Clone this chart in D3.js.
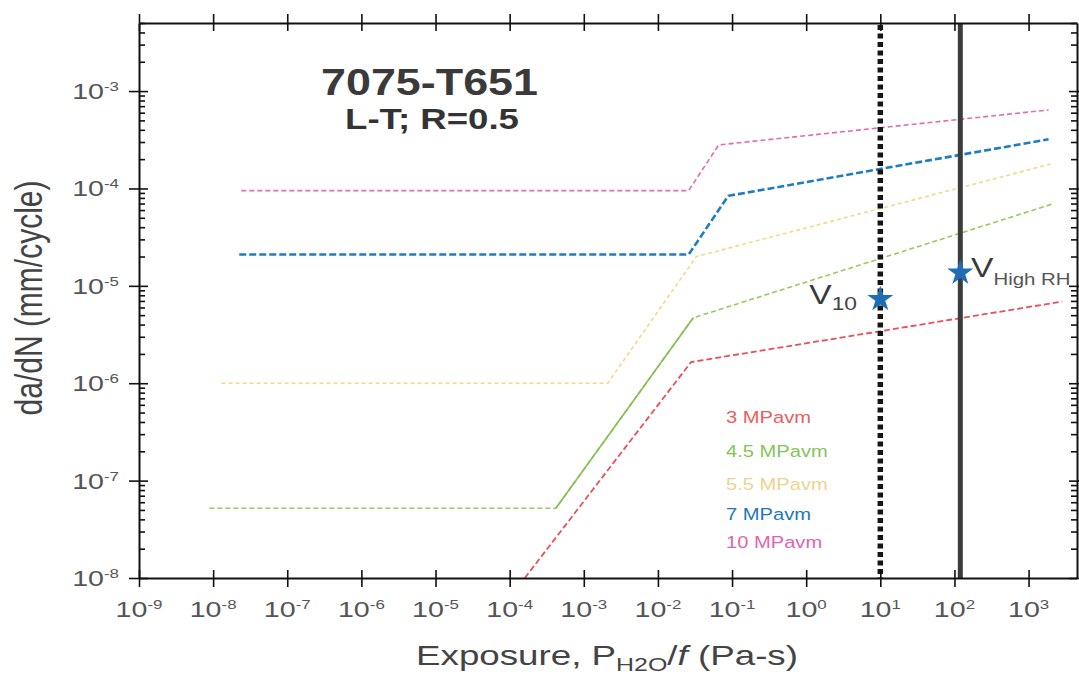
<!DOCTYPE html>
<html>
<head>
<meta charset="utf-8">
<script src="https://cdn.jsdelivr.net/npm/d3@7"></script>
<style>
  body { margin: 0; background: #fff; }
  svg { display: block; background: #fff; }
  text { font-family: "Liberation Sans", Arial, sans-serif; }
  .axis path, .axis line { stroke: #111; }
</style>
</head>
<body>
<svg id="chart" width="1079" height="675"></svg>
<script>
// values: [exposure Pa-s, da/dN mm/cycle]
var seriesNames = ['3 MPavm', '4.5 MPavm', '5.5 MPavm', '7 MPavm', '10 MPavm'];
var series3  = [[1.6e-4, 1e-8], [0.028, 1.65e-6], [2850, 6.9e-6]];
var series45 = [[8.9e-9, 5.2e-8], [4.2e-4, 5.2e-8], [0.030, 4.7e-6], [2200, 7.0e-5]];
var series55 = [[1.3e-8, 1e-6], [2.1e-3, 1e-6], [0.033, 2.0e-5], [2100, 1.8e-4]];
var series7  = [[2.25e-8, 2.1e-5], [0.026, 2.1e-5], [0.089, 8.4e-5], [1860, 3.2e-4]];
var series10 = [[2.4e-8, 9.5e-5], [0.026, 9.5e-5], [0.066, 2.8e-4], [1860, 6.4e-4]];
var solidRise45 = [1, 2];   // the 4.5 MPavm transition is drawn solid

var refLines = [10, 120];   // P/f for V10 (dotted) and V High RH (solid)
var starX = [10, 120];
var starY = [7.3e-6, 1.36e-5];
var starSub = ['10', 'High RH'];

var xTickExp = [-9, -8, -7, -6, -5, -4, -3, -2, -1, 0, 1, 2, 3];
var yTickExp = [-8, -7, -6, -5, -4, -3];

var colors = ['#e8505a', '#97c95c', '#f3d88c', '#1f7cc2', '#e56aae'];
var legendColors = ['#e85e60', '#86c45a', '#eed391', '#1e76bc', '#e064ae'];
var widths = [1.8, 1.6, 1.6, 2.6, 1.6];
var dashes = ['6,3', '5,3', '4,3', '7,3', '5,3'];

var svg = d3.select('#chart');
var pl = 139, pr = 1077, pt = 23, pb = 578;

var x = d3.scaleLog().domain([1e-9, 4500]).range([pl, pr]);
var y = d3.scaleLog().domain([1e-8, 5e-3]).range([pb, pt]);

var xMajor = xTickExp.map(function(e) { return Math.pow(10, e); });
var yMajor = yTickExp.map(function(e) { return Math.pow(10, e); });
function isMajor(v) { return Math.abs(Math.log10(v) - Math.round(Math.log10(v))) < 1e-6; }
var xMinor = x.ticks().filter(function(v) { return !isMajor(v); });
var yMinor = y.ticks().filter(function(v) { return !isMajor(v); });

function fit(g, width) {
  var w = g.select('text').node().getBBox().width;
  g.attr('transform', g.attr('transform') + ' scale(' + (width / w) + ',1)');
}

// ---- series
var line = d3.line().x(function(d) { return x(d[0]); }).y(function(d) { return y(d[1]); });
var all = [series3, series45, series55, series7, series10];

svg.append('g').selectAll('path')
    .data(all)
  .enter().append('path')
    .attr('d', line)
    .attr('fill', 'none')
    .attr('stroke', function(d, i) { return colors[i]; })
    .attr('stroke-width', function(d, i) { return widths[i]; })
    .attr('stroke-dasharray', function(d, i) { return dashes[i]; });

svg.append('path')
    .attr('d', line(solidRise45.map(function(i) { return series45[i]; })))
    .attr('fill', 'none')
    .attr('stroke', '#86bf55')
    .attr('stroke-width', 1.6);

// ---- reference lines
svg.append('line')
    .attr('x1', x(refLines[0])).attr('x2', x(refLines[0]))
    .attr('y1', pt + 2).attr('y2', pb)
    .attr('stroke', '#151515').attr('stroke-width', 5.5)
    .attr('stroke-dasharray', '5,3.5');
svg.append('line')
    .attr('x1', x(refLines[1])).attr('x2', x(refLines[1]))
    .attr('y1', pt).attr('y2', pb)
    .attr('stroke', '#3c3c3c').attr('stroke-width', 5);

// ---- axes
function axis(fn, scale, tr, values, size) {
  var g = svg.append('g').attr('class', 'axis').attr('transform', tr)
      .call(fn(scale).tickValues(values).tickSize(size).tickSizeOuter(0).tickFormat(''));
  g.selectAll('line').attr('stroke-width', 1.6);
  return g;
}
axis(d3.axisBottom, x, 'translate(0,' + pb + ')', xMajor, 9).select('.domain').attr('stroke-width', 2);
axis(d3.axisBottom, x, 'translate(0,' + pb + ')', xMajor, -8).select('.domain').remove();
axis(d3.axisBottom, x, 'translate(0,' + pb + ')', xMinor, -5).select('.domain').remove();
axis(d3.axisTop, x, 'translate(0,' + pt + ')', xMajor, 9).select('.domain').attr('stroke-width', 2);
axis(d3.axisTop, x, 'translate(0,' + pt + ')', xMajor, -8).select('.domain').remove();
axis(d3.axisTop, x, 'translate(0,' + pt + ')', xMinor, -5).select('.domain').remove();
axis(d3.axisLeft, y, 'translate(' + pl + ',0)', yMajor, 10).select('.domain').attr('stroke-width', 2);
axis(d3.axisLeft, y, 'translate(' + pl + ',0)', yMajor, -9).select('.domain').remove();
axis(d3.axisLeft, y, 'translate(' + pl + ',0)', yMinor, -6).select('.domain').remove();
axis(d3.axisRight, y, 'translate(' + pr + ',0)', yMajor, 9).select('.domain').attr('stroke-width', 2);
axis(d3.axisRight, y, 'translate(' + pr + ',0)', yMajor, -8).select('.domain').remove();
axis(d3.axisRight, y, 'translate(' + pr + ',0)', yMinor, -6).select('.domain').remove();

// tick labels, 10 with superscript exponent
function power(g, e, anchor) {
  var t = g.append('text').attr('text-anchor', anchor).attr('fill', '#555').attr('font-size', 22);
  t.append('tspan').text('10');
  t.append('tspan').attr('font-size', 13).attr('dy', -8).text(e);
}
xTickExp.forEach(function(e) {
  var g = svg.append('g').attr('transform', 'translate(' + x(Math.pow(10, e)) + ',617) scale(1.3,1)');
  power(g, e, 'middle');
});
yTickExp.forEach(function(e) {
  var g = svg.append('g').attr('transform', 'translate(119,' + (y(Math.pow(10, e)) + 8) + ') scale(1.3,1)');
  power(g, e, 'end');
});

// axis titles
var yt = svg.append('g').attr('transform', 'translate(42,298) scale(1.27,1) rotate(-90)');
yt.append('text').attr('text-anchor', 'middle').attr('font-size', 30).attr('fill', '#444')
    .text('da/dN (mm/cycle)');

var xt = svg.append('g').attr('transform', 'translate(607,665)');
var xtt = xt.append('text').attr('text-anchor', 'middle').attr('font-size', 28).attr('fill', '#444');
xtt.append('tspan').text('Exposure, P');
xtt.append('tspan').attr('font-size', 19).attr('dy', 6).text('H2O');
xtt.append('tspan').attr('dy', -6).text('/');
xtt.append('tspan').attr('font-style', 'italic').text('f');
xtt.append('tspan').text(' (Pa-s)');
fit(xt, 382);

// title
var t1 = svg.append('g').attr('transform', 'translate(429.5,94.5)');
t1.append('text').attr('text-anchor', 'middle').attr('font-size', 37).attr('font-weight', 'bold')
    .attr('fill', '#3a3a3a').text('7075-T651');
fit(t1, 217);
var t2 = svg.append('g').attr('transform', 'translate(432,129)');
t2.append('text').attr('text-anchor', 'middle').attr('font-size', 29).attr('font-weight', 'bold')
    .attr('fill', '#333').text('L-T; R=0.5');
fit(t2, 174);

// legend
var legendY = [423, 457, 490, 520, 548];
seriesNames.forEach(function(name, i) {
  svg.append('g').attr('transform', 'translate(726,' + legendY[i] + ') scale(1.22,1)')
    .append('text')
      .attr('font-family', '"Open Sans", sans-serif')
      .attr('font-size', 16.5)
      .attr('fill', legendColors[i])
      .text(name);
});

// stars and their labels
svg.append('g').selectAll('path')
    .data(starX)
  .enter().append('path')
    .attr('transform', function(d, i) { return 'translate(' + x(d) + ',' + y(starY[i]) + ')'; })
    .attr('d', d3.symbol().type(d3.symbolStar).size(210))
    .attr('fill', '#1f6db6');

var v1 = svg.append('g').attr('transform', 'translate(857,304) scale(1.2,1)');
var v1t = v1.append('text').attr('text-anchor', 'end')
    .attr('font-family', '"Open Sans", sans-serif').attr('font-size', 28).attr('fill', '#3a3a3a');
v1t.append('tspan').text('V');
v1t.append('tspan').attr('font-size', 19).attr('dy', 6).attr('fill', '#444').text(starSub[0]);

var v2 = svg.append('g').attr('transform', 'translate(971,277) scale(1.2,1)');
var v2t = v2.append('text')
    .attr('font-family', '"Open Sans", sans-serif').attr('font-size', 28).attr('fill', '#3a3a3a');
v2t.append('tspan').text('V');
v2t.append('tspan').attr('font-size', 17).attr('dy', 8).attr('fill', '#555').text(starSub[1]);
</script>
</body>
</html>
